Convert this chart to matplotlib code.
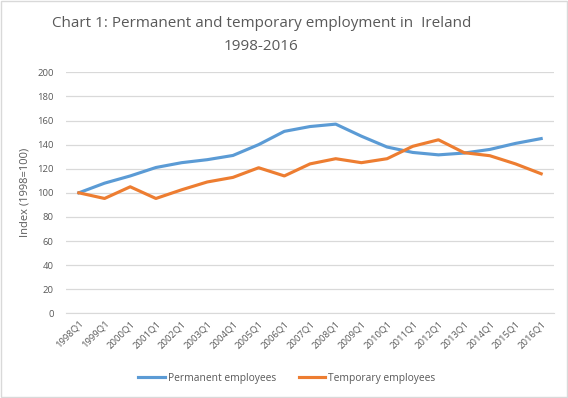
import matplotlib.pyplot as plt
from matplotlib.patches import Rectangle

# Quarter labels for the x axis
quarters = ['%dQ1' % y for y in range(1998, 2017)]

# Index values (1998=100)
permanent = [100, 108, 114, 121, 125, 127.5, 131, 140, 151, 155,
             157, 147, 138, 133.5, 131.5, 133, 136, 141, 145]
temporary = [100, 95.3, 105, 95.3, 102.5, 109, 112.8, 120.8, 114, 124,
             128.3, 125, 128.3, 138.6, 144, 133.3, 130.8, 124, 115.8]

plt.rcParams['font.family'] = ['Open Sans', 'DejaVu Sans']
grey = '#595959'

fig = plt.figure(figsize=(5.68, 3.98), dpi=100)
ax = fig.add_axes([0.1162, 0.2128, 0.8592, 0.6055])

x = range(len(quarters))
ax.plot(x, permanent, color='#5b9bd5', linewidth=2.25, label='Permanent employees')
ax.plot(x, temporary, color='#ed7d31', linewidth=2.25, label='Temporary employees')

# Axes limits and ticks
ax.set_xlim(-0.5, len(quarters) - 0.5)
ax.set_ylim(0, 200)
ax.set_yticks(range(0, 201, 20))
ax.set_xticks(list(x))
ax.set_xticklabels(quarters, rotation=45, ha='right', rotation_mode='anchor')
ax.tick_params(axis='both', length=0, labelsize=6.8, labelcolor=grey)
ax.tick_params(axis='y', pad=9)
ax.tick_params(axis='x', pad=4)

ax.grid(axis='y', color='#d9d9d9', linewidth=0.9)
ax.set_axisbelow(True)
for s in ['top', 'right', 'left']:
    ax.spines[s].set_visible(False)
ax.spines['bottom'].set_color('#d9d9d9')

ax.set_ylabel('Index (1998=100)', fontsize=8, color=grey, labelpad=5)

fig.text(0.46, 0.96, 'Chart 1: Permanent and temporary employment in  Ireland\n1998-2016',
         ha='center', va='top', fontsize=11, color=grey, linespacing=1.75)

leg = fig.legend(loc='center', bbox_to_anchor=(0.505, 0.05), ncol=2, frameon=False,
                 fontsize=7.4, handlelength=2.6, handletextpad=0.25, columnspacing=2.2)
for t in leg.get_texts():
    t.set_color(grey)

# Light border around the chart area
fig.patches.append(Rectangle((0.002, 0.002), 0.996, 0.996, transform=fig.transFigure,
                             fill=False, edgecolor='#d9d9d9', linewidth=1))

fig.savefig('out.png', dpi=100)
